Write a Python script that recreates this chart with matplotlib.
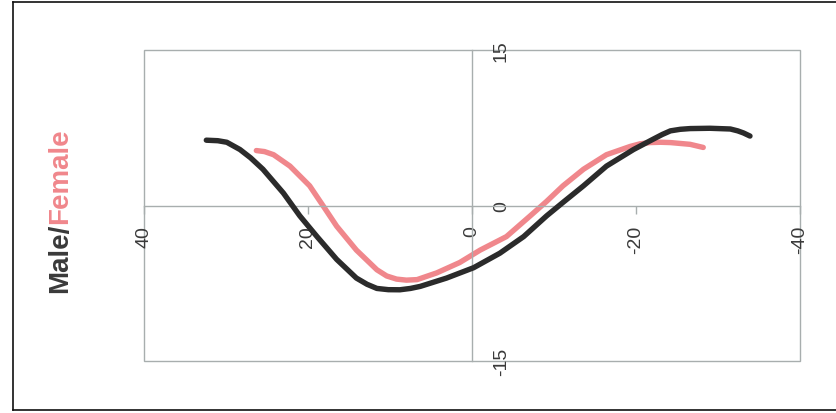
import numpy as np
import matplotlib
matplotlib.use('Agg')
import matplotlib.pyplot as plt
from matplotlib.lines import Line2D
from matplotlib.patches import Rectangle

# data (x axis runs from 40 down to -40)
male_x = [32.4, 31.0, 29.9, 28.3, 27.0, 25.5, 23.0, 21.0, 18.9, 16.5, 14.1, 12.8,
          11.6, 10.2, 8.8, 7.5, 6.3, 3.1, -0.2, -3.4, -6.3, -9.1, -11.1, -13.6,
          -16.4, -19.7, -22.1, -23.2, -24.2, -25.4, -26.6, -29.0, -31.5, -32.4,
          -33.1, -33.9]
male_y = [6.3, 6.25, 6.1, 5.4, 4.6, 3.5, 1.2, -1.0, -3.0, -5.2, -7.0, -7.6,
          -8.0, -8.12, -8.13, -8.0, -7.8, -7.0, -6.0, -4.6, -3.0, -1.0, 0.3, 1.9,
          3.8, 5.4, 6.4, 6.85, 7.2, 7.35, 7.42, 7.45, 7.38, 7.2,
          7.0, 6.7]
female_x = [26.3, 25.3, 24.2, 22.2, 19.8, 18.1, 16.5, 14.1, 11.6, 10.4, 9.2, 8.0,
            6.7, 4.3, 1.5, -1.0, -4.2, -7.1, -9.1, -11.1, -13.6, -16.4, -19.3,
            -20.5, -21.7, -23.0, -24.2, -26.6, -28.2]
female_y = [5.3, 5.2, 4.9, 3.8, 1.9, -0.1, -2.0, -4.3, -6.2, -6.8, -7.1, -7.2,
            -7.15, -6.5, -5.5, -4.3, -3.0, -1.0, 0.4, 1.9, 3.5, 4.9, 5.7,
            5.95, 6.07, 6.1, 6.07, 5.9, 5.6]
x_ticks = [40, 20, 0, -20, -40]
y_ticks = [-15, 0, 15]

W, H = 837, 414
plt.rcParams['font.family'] = ['Liberation Sans', 'DejaVu Sans']
fig = plt.figure(figsize=(W / 100, H / 100), dpi=100)

ax = fig.add_axes([144 / W, (H - 362) / H, 656 / W, 311 / H])
ax.set_xlim(40, -40)
ax.set_ylim(-15, 15)

grid_col = '#a8aeae'
txt_col = '#3a3a3a'
male_col = '#2b2b2b'
female_col = '#f0878c'

# plot box drawn as a patch, spines used as the centre axes
ax.add_patch(Rectangle((0, 0), 1, 1, transform=ax.transAxes, fill=False,
                       edgecolor=grid_col, linewidth=1.0, clip_on=False, zorder=1))
ax.spines['top'].set_visible(False)
ax.spines['left'].set_visible(False)
ax.spines['bottom'].set_position(('data', 0))
ax.spines['right'].set_position(('data', 0))
for s in ['bottom', 'right']:
    ax.spines[s].set_color(grid_col)
    ax.spines[s].set_linewidth(1.0)

ax.set_xticks(x_ticks)
ax.set_xticklabels([str(t) for t in x_ticks], rotation=90, va='top')
ax.set_yticks(y_ticks)
ax.set_yticklabels([str(t) for t in y_ticks], rotation=90, va='center')
ax.yaxis.tick_right()
ax.tick_params(axis='x', direction='out', length=6, width=1, color=grid_col,
               pad=8, labelsize=14, labelcolor=txt_col)
ax.tick_params(axis='y', length=0, pad=15, labelsize=14, labelcolor=txt_col)

ax.plot(male_x, male_y, color=male_col, linewidth=3.9, solid_capstyle='round',
        solid_joinstyle='round', zorder=3)
ax.plot(female_x, female_y, color=female_col, linewidth=3.9, solid_capstyle='round',
        solid_joinstyle='round', zorder=2)

# title on the left, two colours, second part placed right after the first
t1 = fig.text(60 / W, (H - 293) / H, 'Male/', rotation=90, ha='center', va='bottom',
              fontsize=20, fontweight='bold', color=txt_col)
fig.canvas.draw()
bb = t1.get_window_extent()
fig.text(60 / W, bb.y1 / H, 'Female', rotation=90, ha='center', va='bottom',
         fontsize=20, fontweight='bold', color=female_col)

# outer frame of the scanned page
frame_kw = dict(color='#111111', linewidth=1.2, transform=fig.transFigure)
fig.add_artist(Line2D([13 / W, 13 / W], [(H - 3) / H, (H - 411) / H], **frame_kw))
fig.add_artist(Line2D([13 / W, 1.0], [(H - 411) / H, (H - 411) / H], **frame_kw))
fig.add_artist(Line2D([13 / W, 1.0], [(H - 3) / H, (H - 3) / H], **frame_kw))

fig.savefig('out.png', dpi=100)
